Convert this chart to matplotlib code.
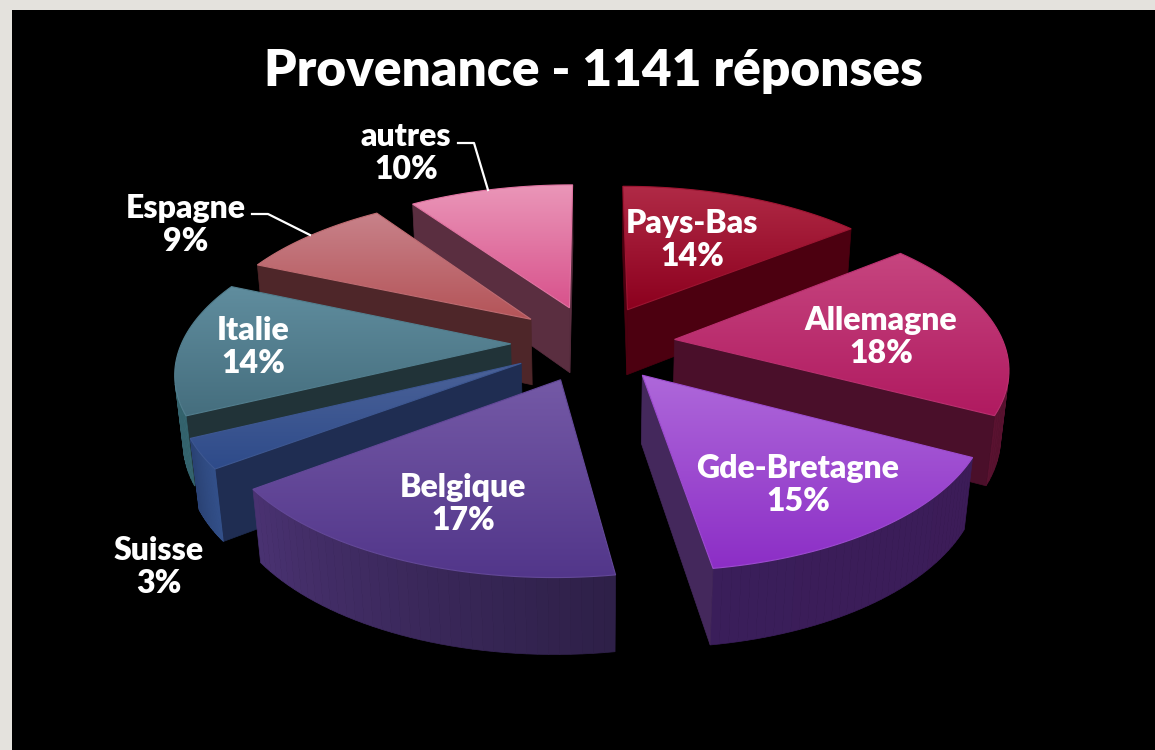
import numpy as np
import matplotlib
matplotlib.use("Agg")
import matplotlib.pyplot as plt
from matplotlib.colors import LinearSegmentedColormap, to_rgb
from matplotlib.patches import Polygon, Rectangle

# data
categories = ["Pays-Bas", "Allemagne", "Gde-Bretagne", "Belgique", "Suisse", "Italie", "Espagne", "autres"]
shares = [14.3, 18.4, 14.9, 17.2, 3.0, 13.7, 8.9, 9.6]

# colours: top face (upper, lower), radial wall, arc wall (start, end)
top_hi = ["#b02a46", "#c6457f", "#ae68da", "#7459a6", "#4b6298", "#608d9e", "#c8828a", "#ea96b8"]
top_lo = ["#8c001e", "#b01a60", "#8c2ec6", "#52368a", "#2e4b8a", "#456e7e", "#b45458", "#d8528c"]
wall_rad = ["#4c0010", "#4a0f2a", "#44285c", "#3a2860", "#1f2d52", "#213338", "#4e2629", "#5a2e40"]
wall_a = ["#4c0010", "#4a0f2a", "#3c1c58", "#2e2048", "#33508a", "#356670", "#4e2629", "#5a2e40"]
wall_b = ["#5e0c1c", "#5a1230", "#3a1e5a", "#4a3272", "#2a4274", "#2c5058", "#4e2629", "#5a2e40"]

# label positions in pixels
label_xy = [(692, 240), (881, 337), (798, 485), (463, 504), (159, 567), (253, 347), (186, 225), (406, 153)]

# pie geometry (pixels)
cx, cy = 593, 343
R = 329
EXPLODE = 0.25
TILT = 0.465
PERSP = 0.16
HEIGHT = 68
SHRINK = 0.02


def project(x, y, down=0.0):
    # x right, y towards the viewer, down = 0 on top face, 1 on bottom
    s = 1 / (1 - PERSP * y + SHRINK * down)
    return cx + R * x * s, cy + (R * TILT * y + HEIGHT * down) * s


def mix(c1, c2, t):
    a, b = np.array(to_rgb(c1)), np.array(to_rgb(c2))
    return tuple(a + (b - a) * t)


fig = plt.figure(figsize=(11.55, 7.5), dpi=100)
fig.patch.set_facecolor("#e4e2dd")
ax = fig.add_axes([0, 0, 1, 1])
ax.set_xlim(0, 1155)
ax.set_ylim(750, 0)
ax.axis("off")
ax.add_patch(Rectangle((12, 10), 1143, 740, fc="black", ec="none", zorder=0))

# wedges in slice-angle order
fracs = np.array(shares) / sum(shares) * 2 * np.pi
ends = np.cumsum(fracs)
starts = ends - fracs

# back to front
order = [0, 7, 6, 5, 1, 4, 2, 3]
z = 1
for i in order:
    mid = (starts[i] + ends[i]) / 2
    tip_x = EXPLODE * np.sin(mid)
    tip_y = -EXPLODE * np.cos(mid)
    th = np.linspace(starts[i], ends[i], 40)
    xs = np.r_[tip_x, tip_x + np.sin(th)]
    ys = np.r_[tip_y, tip_y - np.cos(th)]

    top = np.array([project(a, b) for a, b in zip(xs, ys)])
    bot = np.array([project(a, b, 1) for a, b in zip(xs, ys)])
    sign_top = np.sign(np.sum(top[:, 0] * np.roll(top[:, 1], -1) - np.roll(top[:, 0], -1) * top[:, 1]))

    n = len(top)
    for k in range(n):
        m = (k + 1) % n
        quad = np.array([top[k], top[m], bot[m], bot[k]])
        area = np.sum(quad[:, 0] * np.roll(quad[:, 1], -1) - np.roll(quad[:, 0], -1) * quad[:, 1])
        if np.sign(area) == sign_top:
            continue
        if k == 0 or k == n - 1:
            col = wall_rad[i]
        else:
            col = mix(wall_a[i], wall_b[i], (k - 1) / (n - 2))
        ax.add_patch(Polygon(quad, closed=True, fc=col, ec=col, lw=0.5, zorder=z))
    z += 1

    # top face with vertical gradient
    cmap = LinearSegmentedColormap.from_list("g", [top_hi[i], top_lo[i]])
    x0, x1 = top[:, 0].min(), top[:, 0].max()
    y0, y1 = top[:, 1].min(), top[:, 1].max()
    poly = Polygon(top, closed=True, fc="none", ec=mix(top_hi[i], top_lo[i], 0.5), lw=0.8, zorder=z + 1)
    ax.add_patch(poly)
    im = ax.imshow(np.linspace(0, 1, 128).reshape(-1, 1), cmap=cmap, extent=(x0, x1, y1, y0),
                   aspect="auto", zorder=z, interpolation="bilinear")
    im.set_clip_path(poly)
    z += 2

ax.set_xlim(0, 1155)
ax.set_ylim(750, 0)

# leader lines
ax.plot([252, 268, 310], [214, 214, 235], color="white", lw=1.6, zorder=z)
ax.plot([458, 474, 488], [143, 143, 190], color="white", lw=1.6, zorder=z)

# text
ax.text(593, 71, "Provenance - 1141 réponses", color="white", family="Lato", weight="heavy",
        fontsize=37, ha="center", va="center", zorder=z + 1)
for name, val, (tx, ty) in zip(categories, shares, label_xy):
    ax.text(tx, ty, f"{name}\n{val:.0f}%", color="white", family="Lato", weight="heavy",
            fontsize=23, ha="center", va="center", linespacing=1.2, zorder=z + 1)

fig.savefig("out.png", dpi=100, facecolor=fig.get_facecolor())
